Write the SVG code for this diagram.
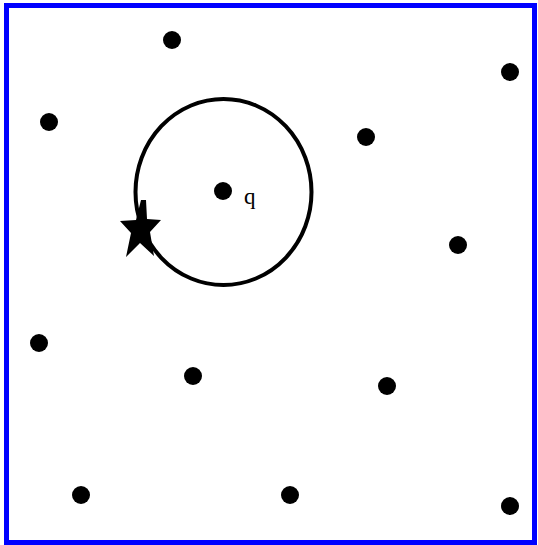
<svg xmlns="http://www.w3.org/2000/svg" width="538" height="545" viewBox="0 0 538 545">
<style>
.dot{fill:#000}
.lbl{font-family:"Liberation Serif",serif;font-size:23px;fill:#000}
</style>
<rect x="0" y="0" width="538" height="545" fill="#fff"/>
<rect x="6.5" y="5.5" width="528" height="537" fill="none" stroke="#0000ff" stroke-width="5"/>
<g id="circle">
<ellipse cx="223.5" cy="192" rx="88" ry="93" fill="none" stroke="#000" stroke-width="4"/>
</g>
<g id="star">
<polygon points="141,200 146,200 147,219 161,220 150,232 154,256 140,243 126,257 131,233 120,221 136,220" fill="#000"/>
</g>
<g id="points">
<circle class="dot" cx="172" cy="40" r="9"/>
<circle class="dot" cx="510" cy="72" r="9"/>
<circle class="dot" cx="49" cy="122" r="9"/>
<circle class="dot" cx="366" cy="137" r="9"/>
<circle class="dot" cx="458" cy="245" r="9"/>
<circle class="dot" cx="39" cy="343" r="9"/>
<circle class="dot" cx="193" cy="376" r="9"/>
<circle class="dot" cx="387" cy="386" r="9"/>
<circle class="dot" cx="81" cy="495" r="9"/>
<circle class="dot" cx="290" cy="495" r="9"/>
<circle class="dot" cx="510" cy="506" r="9"/>
</g>
<g id="q">
<circle class="dot" cx="223" cy="191" r="9"/>
<text class="lbl" x="244" y="204">q</text>
</g>
</svg>
